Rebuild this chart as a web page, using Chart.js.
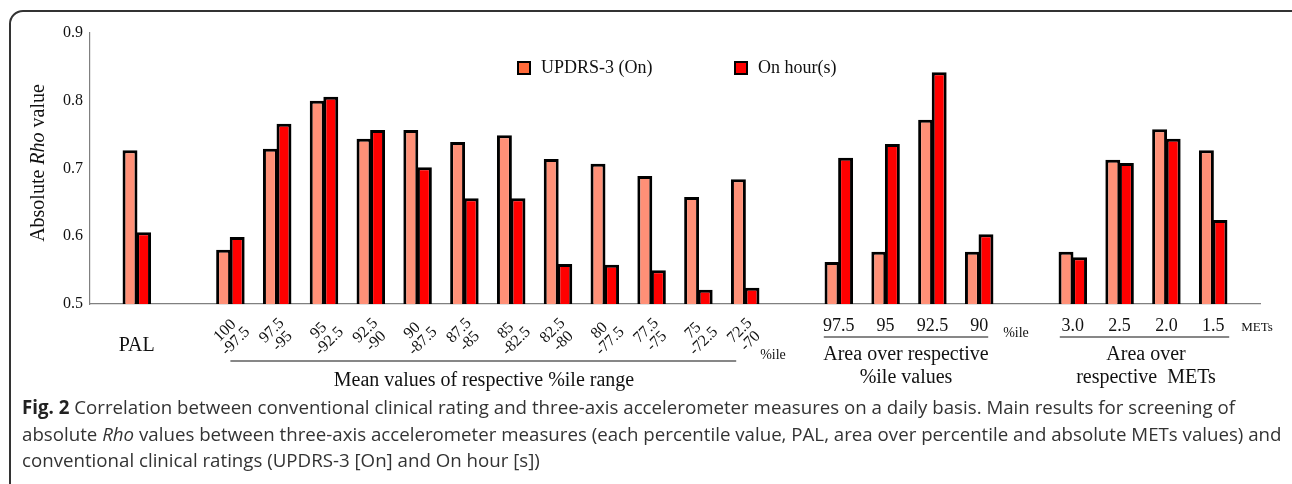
<!DOCTYPE html>
<html>
<head>
<meta charset="utf-8">
<script src="https://cdn.jsdelivr.net/npm/chart.js@4.4.1/dist/chart.umd.min.js"></script>
<style>
  html, body { margin: 0; padding: 0; background: #fff; }
  #wrap { position: relative; width: 1292px; height: 484px; overflow: hidden; background: #fff; }
  #frame { position: absolute; left: 9px; top: 10px; width: 1300px; height: 520px;
           border: 2px solid #333; border-radius: 14px; box-sizing: border-box; }
  #c { position: absolute; left: 0; top: 0; }
  #caption { position: absolute; left: 22px; top: 394px; white-space: nowrap;
             font-family: "Open Sans", sans-serif; font-size: 18.7px; line-height: 26.5px; color: #333; }
  #caption b { color: #222; }
</style>
</head>
<body>
<div id="wrap">
  <div id="frame"></div>
  <canvas id="c" width="1292" height="395"></canvas>
  <div id="caption"><b>Fig. 2</b> Correlation between conventional clinical rating and three-axis accelerometer measures on a daily basis. Main results for screening of<br>absolute <i>Rho</i> values between three-axis accelerometer measures (each percentile value, PAL, area over percentile and absolute METs values) and<br>conventional clinical ratings (UPDRS-3 [On] and On hour [s])</div>
</div>
<script>
// ---- data ----
const categories = ["", "PAL", "",
  ["100", "-97.5"], ["97.5", "-95"], ["95", "-92.5"], ["92.5", "-90"], ["90", "-87.5"], ["87.5", "-85"],
  ["85", "-82.5"], ["82.5", "-80"], ["80", "-77.5"], ["77.5", "-75"], ["75", "-72.5"], ["72.5", "-70"],
  "", "97.5", "95", "92.5", "90",
  "", "3.0", "2.5", "2.0", "1.5", ""];
const updrsOn = [null, 0.727, null,
  0.580, 0.729, 0.800, 0.744, 0.757, 0.739, 0.749, 0.714, 0.707, 0.689, 0.658, 0.684,
  null, 0.562, 0.577, 0.772, 0.577,
  null, 0.577, 0.713, 0.758, 0.727, null];
const onHours = [null, 0.606, null,
  0.599, 0.766, 0.806, 0.757, 0.702, 0.656, 0.656, 0.559, 0.558, 0.550, 0.521, 0.524,
  null, 0.716, 0.736, 0.842, 0.603,
  null, 0.569, 0.708, 0.744, 0.624, null];
const seriesNames = ["UPDRS-3 (On)", "On hour(s)"];
const yTickLabels = ["0.5", "0.6", "0.7", "0.8", "0.9"];
const groupFirst = [3, 16, 21];
const groupLast = [14, 19, 24];
const groupUnits = ["%ile", "%ile", "METs"];
const groupTitles = [["Mean values of respective %ile range"], ["Area over respective", "%ile values"], ["Area over", "respective  METs"]];
const yTitleParts = ["Absolute ", "Rho", " value"];

// ---- styles ----
const SERIF = '"Liberation Serif", "Times New Roman", serif';
const PINK = '#FF9077', RED = '#FF0000', LEGEND_PINK = '#FF6A3A';
const TXT = '#111';

const decor = {
  id: 'decor',
  afterDraw(chart) {
    const ctx = chart.ctx, x = chart.scales.x, y = chart.scales.y;
    ctx.save();
    ctx.fillStyle = TXT;
    ctx.strokeStyle = '#111';
    // category labels
    categories.forEach((lab, i) => {
      if (lab === "" ) return;
      const px = x.getPixelForValue(i);
      if (Array.isArray(lab)) {
        ctx.save();
        ctx.translate(px, 336);
        ctx.rotate(-Math.PI / 4);
        ctx.font = '16px ' + SERIF;
        ctx.textAlign = 'center';
        ctx.textBaseline = 'middle';
        ctx.fillText(lab[0], 0, -7.5);
        ctx.fillText(lab[1], 0, 7.5);
        ctx.restore();
      } else if (i === 1) {
        ctx.font = '20px ' + SERIF;
        ctx.textAlign = 'center';
        ctx.textBaseline = 'middle';
        ctx.fillText(lab, px, 346);
      } else {
        ctx.font = '18px ' + SERIF;
        ctx.textAlign = 'center';
        ctx.textBaseline = 'middle';
        ctx.fillText(lab, px, 326);
      }
    });
    // group lines, units, titles
    const lineCfg = [
      {y: 361, l: 0, r: -9, unitX: 773, unitY: 355, unitSize: 14, titleX: 484, titleY: [381]},
      {y: 337, l: -15, r: 9, unitX: 1016, unitY: 333, unitSize: 14, titleX: 906, titleY: [355, 378]},
      {y: 337, l: -13, r: 16, unitX: 1257, unitY: 328, unitSize: 13, titleX: 1146, titleY: [355, 378]}
    ];
    groupFirst.forEach((f, g) => {
      const c = lineCfg[g];
      const x0 = x.getPixelForValue(f) + c.l, x1 = x.getPixelForValue(groupLast[g]) + c.r;
      ctx.lineWidth = 1.2;
      ctx.beginPath(); ctx.moveTo(x0, c.y); ctx.lineTo(x1, c.y); ctx.stroke();
      ctx.font = c.unitSize + 'px ' + SERIF;
      ctx.textAlign = 'center'; ctx.textBaseline = 'middle';
      ctx.fillText(groupUnits[g], c.unitX, c.unitY);
      ctx.font = '20px ' + SERIF;
      groupTitles[g].forEach((t, k) => ctx.fillText(t, c.titleX, c.titleY[k]));
    });
    // y title with italic Rho
    ctx.save();
    ctx.translate(39, 163);
    ctx.rotate(-Math.PI / 2);
    ctx.textBaseline = 'middle';
    ctx.textAlign = 'left';
    const fonts = ['20px ' + SERIF, 'italic 20px ' + SERIF, '20px ' + SERIF];
    let total = 0;
    yTitleParts.forEach((p, k) => { ctx.font = fonts[k]; total += ctx.measureText(p).width; });
    let cx = -total / 2;
    yTitleParts.forEach((p, k) => { ctx.font = fonts[k]; ctx.fillText(p, cx, 0); cx += ctx.measureText(p).width; });
    ctx.restore();
    // legend
    const legX = [517, 734], fills = [LEGEND_PINK, RED];
    seriesNames.forEach((n, k) => {
      ctx.fillStyle = fills[k];
      ctx.fillRect(legX[k], 61, 14, 14);
      ctx.lineWidth = 2; ctx.strokeStyle = '#000';
      ctx.strokeRect(legX[k] + 1, 62, 12, 12);
      ctx.fillStyle = TXT;
      ctx.font = '18px ' + SERIF;
      ctx.textAlign = 'left'; ctx.textBaseline = 'middle';
      ctx.fillText(n, legX[k] + 24, 68);
    });
    ctx.restore();
  }
};

new Chart(document.getElementById('c'), {
  type: 'bar',
  data: {
    labels: categories,
    datasets: [
      { label: seriesNames[0], data: updrsOn, backgroundColor: PINK, borderColor: '#000', borderWidth: 3, borderSkipped: false },
      { label: seriesNames[1], data: onHours, backgroundColor: RED, borderColor: '#000', borderWidth: 3, borderSkipped: false }
    ]
  },
  options: {
    responsive: false,
    animation: false,
    events: [],
    layout: { padding: { top: 33, right: 32, left: 0, bottom: 0 } },
    datasets: { bar: { categoryPercentage: 0.58, barPercentage: 1.1 } },
    plugins: { legend: { display: false }, tooltip: { enabled: false }, title: { display: false } },
    scales: {
      x: {
        offset: false,
        grid: { display: false, drawTicks: false },
        border: { display: true, color: '#808080', width: 1.2 },
        ticks: { display: false },
        afterFit(s) { s.height = 91; }
      },
      y: {
        min: 0.5, max: 0.9,
        grid: { display: false, drawTicks: false },
        border: { display: true, color: '#808080', width: 1.2 },
        ticks: {
          stepSize: 0.1, padding: 7, color: TXT,
          font: { family: SERIF, size: 16 },
          callback: (v, i) => yTickLabels[i]
        },
        afterFit(s) { s.width = 90; }
      }
    }
  },
  plugins: [decor]
});
</script>
</body>
</html>
